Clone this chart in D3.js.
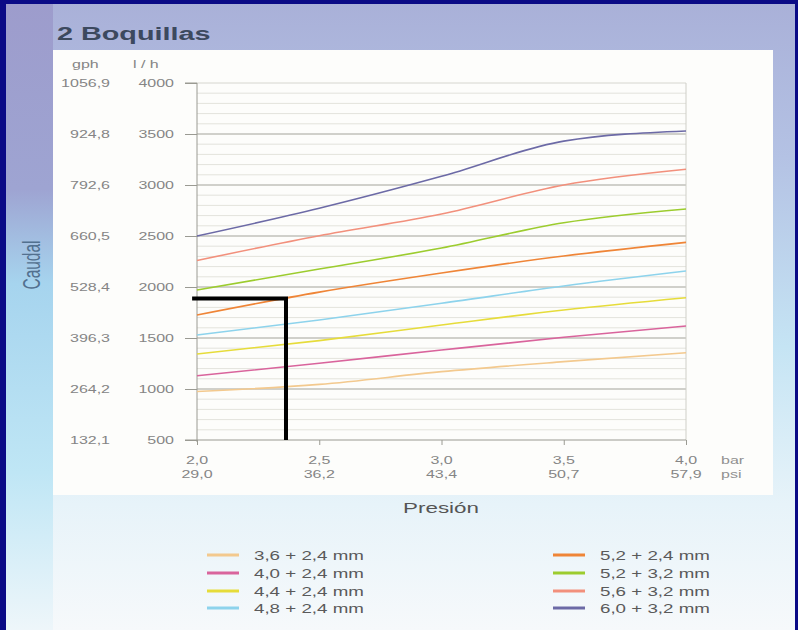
<!DOCTYPE html>
<html><head><meta charset="utf-8">
<script src="https://cdn.jsdelivr.net/npm/d3@7"></script>
<style>body{margin:0;background:#fff} svg{display:block}</style>
</head><body><svg id="c" width="798" height="630"></svg>
<script>
// ---------- data ----------
const title = "2 Boquillas";
const barTicks = [2.0, 2.5, 3.0, 3.5, 4.0];
const barLabels = ["2,0", "2,5", "3,0", "3,5", "4,0"];
const psiLabels = ["29,0", "36,2", "43,4", "50,7", "57,9"];
const lhTicks = [500, 1000, 1500, 2000, 2500, 3000, 3500, 4000];
const gphLabels = ["132,1", "264,2", "396,3", "528,4", "660,5", "792,6", "924,8", "1056,9"];
const minorStep = 100;
const pressure = [2.0, 2.5, 3.0, 3.5, 4.0];
const seriesNames = ["3,6 + 2,4 mm", "4,0 + 2,4 mm", "4,4 + 2,4 mm", "4,8 + 2,4 mm",
                     "5,2 + 2,4 mm", "5,2 + 3,2 mm", "5,6 + 3,2 mm", "6,0 + 3,2 mm"];
const flow36_24 = [975, 1045, 1170, 1268, 1356];
const flow40_24 = [1130, 1252, 1382, 1507, 1618];
const flow44_24 = [1343, 1474, 1627, 1775, 1895];
const flow48_24 = [1530, 1677, 1840, 2010, 2157];
const flow52_24 = [1725, 1950, 2137, 2304, 2438];
const flow52_32 = [1970, 2176, 2382, 2630, 2765];
const flow56_32 = [2260, 2503, 2716, 3000, 3154];
const flow60_32 = [2500, 2772, 3085, 3430, 3530];
const seriesColors = ["#f3c98e", "#d9649c", "#e6dc3a", "#8dd3ec",
                      "#ef8537", "#9ccc2e", "#f2907c", "#6c6aa6"];
// annotation drawn on the chart (black L): [bar, l/h]
const annotPath = [[1.98, 1887], [2.364, 1887], [2.364, 500]];

const allSeries = [flow36_24, flow40_24, flow44_24, flow48_24, flow52_24, flow52_32, flow56_32, flow60_32];

// ---------- setup ----------
const W = 798, H = 630;
const SX = 1.6; // horizontal stretch of the printed figure's lettering
const FONT = "'Liberation Sans', Arial, Helvetica, sans-serif";
const svg = d3.select("#c");
const defs = svg.append("defs");

function stxt(parent, x, y, str, o) {
  o = o || {};
  let tr = `translate(${x},${y}) scale(${o.sx || SX},1)`;
  if (o.rotate) tr += ` rotate(${o.rotate})`;
  return parent.append("text")
    .attr("transform", tr)
    .attr("font-family", FONT)
    .attr("font-size", o.size || 10)
    .attr("font-weight", o.weight || "normal")
    .attr("fill", o.fill || "#888")
    .attr("text-anchor", o.anchor || "start")
    .text(str);
}

// ---------- background ----------
const bg = defs.append("linearGradient").attr("id", "bg").attr("x1", 0).attr("y1", 0).attr("x2", 0).attr("y2", 1);
[["0", "#a9b0d8"], ["0.25", "#b4c2e4"], ["0.55", "#c5e4f4"], ["0.8", "#e7f3f9"], ["1", "#f6f9fb"]]
  .forEach(([o, c]) => bg.append("stop").attr("offset", o).attr("stop-color", c));
svg.append("rect").attr("width", W).attr("height", H).attr("fill", "url(#bg)");

const lg = defs.append("linearGradient").attr("id", "lg").attr("x1", 0).attr("y1", 0).attr("x2", 0).attr("y2", 1);
[["0", "#9d9ccc"], ["0.3", "#9ea4d2"], ["0.45", "#a6d4ee"], ["0.75", "#bfe6f5"], ["1", "#eef6fa"]]
  .forEach(([o, c]) => lg.append("stop").attr("offset", o).attr("stop-color", c));
svg.append("rect").attr("x", 0).attr("y", 0).attr("width", 53).attr("height", H).attr("fill", "url(#lg)");

// navy frame
svg.append("rect").attr("x", 0).attr("y", 0).attr("width", 6).attr("height", H).attr("fill", "#0a0a86");
svg.append("rect").attr("x", 0).attr("y", 0).attr("width", W).attr("height", 4).attr("fill", "#0a0a86");
svg.append("rect").attr("x", W - 3).attr("y", 0).attr("width", 3).attr("height", H).attr("fill", "#0a0a86");

// white panel
svg.append("rect").attr("x", 53).attr("y", 50).attr("width", 720).attr("height", 445).attr("fill", "#fdfdfb");

// title
stxt(svg, 57, 40, title, { size: 18, weight: "bold", fill: "#3c495e" });

// ---------- scales ----------
const x = d3.scaleLinear().domain([2.0, 4.0]).range([197, 686]);
const y = d3.scaleLinear().domain([500, 4000]).range([440, 83]);

const plot = svg.append("g");

// minor gridlines
const minorVals = d3.range(500, 4000 + 1, minorStep).filter(v => !lhTicks.includes(v));
plot.selectAll("line.minor").data(minorVals).enter().append("line")
  .attr("x1", x(2.0)).attr("x2", x(4.0))
  .attr("y1", d => y(d)).attr("y2", d => y(d))
  .attr("stroke", "#e3e3dc").attr("stroke-width", 1);

// major gridlines
plot.selectAll("line.major").data(lhTicks.slice(1, -1)).enter().append("line")
  .attr("x1", x(2.0)).attr("x2", x(4.0))
  .attr("y1", d => y(d)).attr("y2", d => y(d))
  .attr("stroke", "#a3a39a").attr("stroke-width", 1);
// top & right frame
plot.append("line").attr("x1", x(2.0)).attr("x2", x(4.0)).attr("y1", y(4000)).attr("y2", y(4000))
  .attr("stroke", "#d6d6cf");
plot.append("line").attr("x1", x(4.0)).attr("x2", x(4.0)).attr("y1", y(4000)).attr("y2", y(500))
  .attr("stroke", "#cfcfc8");

// y axis (l/h)
const yAxis = d3.axisLeft(y).tickValues(lhTicks).tickSize(12).tickPadding(11).tickFormat(d => d);
const gy = plot.append("g").attr("transform", `translate(${x(2.0)},0)`).call(yAxis);
gy.select(".domain").attr("stroke", "#9a9a92").attr("d", `M-12,${y(4000)}H0V${y(500) + 2}`);
gy.selectAll(".tick line").attr("stroke", "#9a9a92");
gy.selectAll(".tick text").each(function (d) {
  const t = d3.select(this);
  t.attr("transform", `translate(-23,0) scale(${SX},1)`).attr("x", 0)
    .attr("font-family", FONT).attr("font-size", 10).attr("fill", "#858585");
});

// gph labels
lhTicks.forEach((v, i) => stxt(svg, 110, y(v) + 3.5, gphLabels[i], { size: 10, anchor: "end", fill: "#858585" }));
stxt(svg, 72, 68, "gph", { size: 10, fill: "#858585" });
stxt(svg, 133, 68, "l / h", { size: 10, fill: "#858585" });

// x axis
const xAxis = d3.axisBottom(x).tickValues(barTicks).tickSize(5).tickFormat("");
const gx = plot.append("g").attr("transform", `translate(0,${y(500)})`).call(xAxis);
gx.select(".domain").attr("stroke", "#9a9a92").attr("d", `M${x(2.0) - 12},0H${x(4.0)}`);
gx.selectAll(".tick line").attr("stroke", "#9a9a92");
barTicks.forEach((b, i) => {
  stxt(svg, x(b), 464, barLabels[i], { size: 10, anchor: "middle", fill: "#858585" });
  stxt(svg, x(b), 478, psiLabels[i], { size: 10, anchor: "middle", fill: "#858585" });
});
stxt(svg, 721, 464, "bar", { size: 10, fill: "#909090" });
stxt(svg, 721, 478, "psi", { size: 10, fill: "#909090" });

// axis titles
stxt(svg, 441, 513, "Presión", { size: 14, anchor: "middle", fill: "#555" });
stxt(svg, 40, 265, "Caudal", { size: 15.5, anchor: "middle", fill: "#52708f", rotate: -90 });

// ---------- series ----------
const line = d3.line().x(d => x(d[0])).y(d => y(d[1])).curve(d3.curveMonotoneX);
allSeries.forEach((vals, i) => {
  plot.append("path")
    .attr("d", line(pressure.map((p, j) => [p, vals[j]])))
    .attr("fill", "none").attr("stroke", seriesColors[i]).attr("stroke-width", 1.6);
});

// annotation
plot.append("path")
  .attr("d", d3.line().x(d => x(d[0])).y(d => y(d[1]))(annotPath))
  .attr("fill", "none").attr("stroke", "#000").attr("stroke-width", 4).attr("stroke-linejoin", "miter");

// ---------- legend ----------
const legRows = [555, 573, 591, 608];
seriesNames.forEach((name, i) => {
  const col = i < 4 ? 0 : 1;
  const row = i % 4;
  const lx = col === 0 ? 207 : 553;
  const yy = legRows[row];
  svg.append("line").attr("x1", lx).attr("x2", lx + 32).attr("y1", yy).attr("y2", yy)
    .attr("stroke", seriesColors[i]).attr("stroke-width", 3);
  stxt(svg, lx + 47, yy + 4.5, name, { size: 12.5, sx: 1.5, fill: "#5a5a5a" });
});
</script></body></html>
